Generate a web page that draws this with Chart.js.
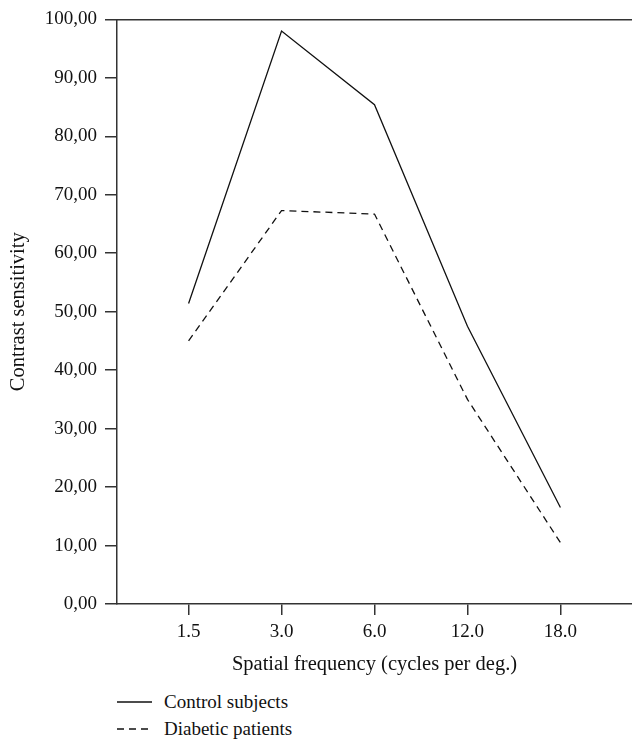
<!DOCTYPE html>
<html>
<head>
<meta charset="utf-8">
<script src="https://cdn.jsdelivr.net/npm/chart.js@4/dist/chart.umd.min.js"></script>
<style>
  html, body { margin: 0; padding: 0; background: #fff; }
  #wrap { position: relative; width: 632px; height: 740px; }
  #c { position: absolute; left: 0; top: 0; }
  #legend { position: absolute; left: 117px; top: 688px; font-family: "Liberation Serif", serif; font-size: 19px; color: #111; }
  .item { display: flex; align-items: center; height: 27px; }
  .item svg { margin-right: 12px; }
</style>
</head>
<body>
<div id="wrap">
  <canvas id="c" width="632" height="680"></canvas>
  <div id="legend"></div>
</div>
<script>
const categories = ['1.5', '3.0', '6.0', '12.0', '18.0'];
const controlSubjects = [51.4, 98.0, 85.4, 47.5, 16.5];
const diabeticPatients = [45.0, 67.3, 66.7, 35.0, 10.5];
const seriesNames = ['Control subjects', 'Diabetic patients'];
const yTicks = [0, 10, 20, 30, 40, 50, 60, 70, 80, 90, 100];

const FONT = '"Liberation Serif", serif';
const INK = '#111';
const AXIS = '#333';

const toPoints = arr => arr.map((v, i) => ({ x: i, y: v }));

const chart = new Chart(document.getElementById('c'), {
  type: 'line',
  data: {
    datasets: [
      { label: seriesNames[0], data: toPoints(controlSubjects), borderColor: INK, backgroundColor: 'transparent',
        borderWidth: 1.3, pointRadius: 0, tension: 0, borderDash: [] },
      { label: seriesNames[1], data: toPoints(diabeticPatients), borderColor: INK, backgroundColor: 'transparent',
        borderWidth: 1.3, pointRadius: 0, tension: 0, borderDash: [7, 5] }
    ]
  },
  options: {
    responsive: false,
    animation: false,
    devicePixelRatio: 1,
    layout: { padding: { top: 17, left: 0, right: 0, bottom: 0 } },
    plugins: { legend: { display: false }, tooltip: { enabled: false } },
    scales: {
      x: {
        type: 'linear',
        position: 'bottom',
        min: -0.77,
        max: 4.77,
        afterBuildTicks: s => { s.ticks = categories.map((_, i) => ({ value: i })); },
        afterFit: s => { s.height = 76; },
        ticks: {
          callback: v => categories[v],
          font: { family: FONT, size: 19 },
          color: INK,
          padding: 6,
          maxRotation: 0,
          autoSkip: false
        },
        grid: { drawOnChartArea: false, tickLength: 11, color: AXIS, lineWidth: 1.5 },
        border: { display: true, color: AXIS, width: 1.5 },
        title: {
          display: true,
          text: 'Spatial frequency (cycles per deg.)',
          font: { family: FONT, size: 20.5 },
          color: INK,
          padding: { top: 0, bottom: 3 }
        }
      },
      xTop: {
        type: 'linear',
        position: 'top',
        min: -0.77,
        max: 4.77,
        ticks: { display: false },
        grid: { display: false, drawTicks: false },
        border: { display: true, color: AXIS, width: 1.5 }
      },
      y: {
        type: 'linear',
        min: 0,
        max: 100,
        afterBuildTicks: s => { s.ticks = yTicks.map(v => ({ value: v })); },
        afterFit: s => { s.width = 117; },
        ticks: {
          callback: v => v.toFixed(2).replace('.', ','),
          font: { family: FONT, size: 19 },
          color: INK,
          padding: 8
        },
        grid: { drawOnChartArea: false, tickLength: 12, color: AXIS, lineWidth: 1.5 },
        border: { display: true, color: AXIS, width: 1.5 },
        title: {
          display: true,
          text: 'Contrast sensitivity',
          font: { family: FONT, size: 20.5 },
          color: INK,
          padding: { top: 6, bottom: 0 }
        }
      }
    }
  }
});

// HTML legend built from the chart's datasets
const legend = document.getElementById('legend');
chart.data.datasets.forEach(ds => {
  const item = document.createElement('div');
  item.className = 'item';
  const dash = ds.borderDash && ds.borderDash.length ? 'stroke-dasharray="7 5"' : '';
  item.innerHTML = '<svg width="35" height="4"><line x1="0" y1="2" x2="35" y2="2" stroke="' + INK +
    '" stroke-width="1.3" ' + dash + '/></svg>';
  const span = document.createElement('span');
  span.textContent = ds.label;
  item.appendChild(span);
  legend.appendChild(item);
});
</script>
</body>
</html>
